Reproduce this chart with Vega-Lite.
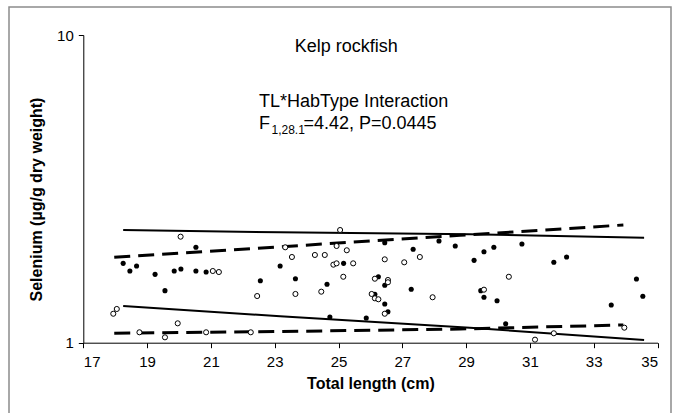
{
  "$schema": "https://vega.github.io/schema/vega-lite/v6.json",
  "width": 662,
  "height": 416,
  "autosize": {"type": "none"},
  "padding": {"left": 9, "top": 7, "right": 8, "bottom": -10},
  "background": "white",
  "config": {
    "font": "Liberation Sans",
    "view": {"stroke": "#8c8c8c", "strokeWidth": 1.5},
    "axis": {
      "grid": false,
      "domainColor": "#000000",
      "domainWidth": 1,
      "tickColor": "#000000",
      "tickSize": 5,
      "labelColor": "#000000",
      "titleColor": "#000000",
      "labelFont": "Liberation Sans",
      "labelFontSize": 15,
      "titleFont": "Liberation Sans",
      "titleFontWeight": "bold"
    }
  },
  "datasets": {
    "fish": [
      {"length": 18.25, "selenium": 1.811, "HabType": "1"},
      {"length": 18.46, "selenium": 1.710, "HabType": "1"},
      {"length": 18.67, "selenium": 1.776, "HabType": "1"},
      {"length": 19.25, "selenium": 1.668, "HabType": "1"},
      {"length": 19.56, "selenium": 1.476, "HabType": "1"},
      {"length": 19.85, "selenium": 1.710, "HabType": "1"},
      {"length": 20.06, "selenium": 1.736, "HabType": "1"},
      {"length": 20.53, "selenium": 2.042, "HabType": "1"},
      {"length": 20.53, "selenium": 1.710, "HabType": "1"},
      {"length": 20.85, "selenium": 1.697, "HabType": "1"},
      {"length": 22.55, "selenium": 1.590, "HabType": "1"},
      {"length": 23.17, "selenium": 1.776, "HabType": "1"},
      {"length": 23.65, "selenium": 1.614, "HabType": "1"},
      {"length": 24.64, "selenium": 1.548, "HabType": "1"},
      {"length": 25.16, "selenium": 1.811, "HabType": "1"},
      {"length": 24.73, "selenium": 1.212, "HabType": "1"},
      {"length": 25.87, "selenium": 1.203, "HabType": "1"},
      {"length": 26.25, "selenium": 1.638, "HabType": "1"},
      {"length": 26.45, "selenium": 1.537, "HabType": "1"},
      {"length": 26.14, "selenium": 1.437, "HabType": "1"},
      {"length": 26.45, "selenium": 1.336, "HabType": "1"},
      {"length": 26.55, "selenium": 1.261, "HabType": "1"},
      {"length": 26.45, "selenium": 2.113, "HabType": "1"},
      {"length": 27.34, "selenium": 2.012, "HabType": "1"},
      {"length": 27.28, "selenium": 1.491, "HabType": "1"},
      {"length": 28.15, "selenium": 2.141, "HabType": "1"},
      {"length": 28.66, "selenium": 2.062, "HabType": "1"},
      {"length": 29.25, "selenium": 1.852, "HabType": "1"},
      {"length": 29.56, "selenium": 1.976, "HabType": "1"},
      {"length": 29.87, "selenium": 2.042, "HabType": "1"},
      {"length": 30.75, "selenium": 2.093, "HabType": "1"},
      {"length": 31.75, "selenium": 1.825, "HabType": "1"},
      {"length": 32.15, "selenium": 1.899, "HabType": "1"},
      {"length": 29.46, "selenium": 1.476, "HabType": "1"},
      {"length": 29.56, "selenium": 1.405, "HabType": "1"},
      {"length": 29.97, "selenium": 1.369, "HabType": "1"},
      {"length": 30.24, "selenium": 1.153, "HabType": "1"},
      {"length": 33.55, "selenium": 1.326, "HabType": "1"},
      {"length": 34.34, "selenium": 1.611, "HabType": "1"},
      {"length": 34.54, "selenium": 1.415, "HabType": "1"},
      {"length": 20.05, "selenium": 2.211, "HabType": "2"},
      {"length": 21.06, "selenium": 1.710, "HabType": "2"},
      {"length": 21.25, "selenium": 1.697, "HabType": "2"},
      {"length": 22.45, "selenium": 1.418, "HabType": "2"},
      {"length": 17.94, "selenium": 1.242, "HabType": "2"},
      {"length": 18.05, "selenium": 1.287, "HabType": "2"},
      {"length": 18.76, "selenium": 1.081, "HabType": "2"},
      {"length": 19.96, "selenium": 1.156, "HabType": "2"},
      {"length": 19.56, "selenium": 1.041, "HabType": "2"},
      {"length": 20.85, "selenium": 1.081, "HabType": "2"},
      {"length": 22.25, "selenium": 1.081, "HabType": "2"},
      {"length": 25.05, "selenium": 2.324, "HabType": "2"},
      {"length": 23.33, "selenium": 2.042, "HabType": "2"},
      {"length": 23.54, "selenium": 1.899, "HabType": "2"},
      {"length": 23.65, "selenium": 1.440, "HabType": "2"},
      {"length": 24.26, "selenium": 1.928, "HabType": "2"},
      {"length": 24.57, "selenium": 1.928, "HabType": "2"},
      {"length": 24.94, "selenium": 2.062, "HabType": "2"},
      {"length": 25.26, "selenium": 1.997, "HabType": "2"},
      {"length": 24.84, "selenium": 1.793, "HabType": "2"},
      {"length": 24.94, "selenium": 1.811, "HabType": "2"},
      {"length": 25.46, "selenium": 1.811, "HabType": "2"},
      {"length": 25.15, "selenium": 1.638, "HabType": "2"},
      {"length": 24.46, "selenium": 1.465, "HabType": "2"},
      {"length": 26.14, "selenium": 1.614, "HabType": "2"},
      {"length": 26.55, "selenium": 1.599, "HabType": "2"},
      {"length": 26.55, "selenium": 1.572, "HabType": "2"},
      {"length": 26.45, "selenium": 1.866, "HabType": "2"},
      {"length": 26.04, "selenium": 1.440, "HabType": "2"},
      {"length": 26.14, "selenium": 1.394, "HabType": "2"},
      {"length": 26.25, "selenium": 1.384, "HabType": "2"},
      {"length": 26.45, "selenium": 1.242, "HabType": "2"},
      {"length": 27.06, "selenium": 1.825, "HabType": "2"},
      {"length": 27.55, "selenium": 1.899, "HabType": "2"},
      {"length": 27.95, "selenium": 1.405, "HabType": "2"},
      {"length": 30.34, "selenium": 1.638, "HabType": "2"},
      {"length": 29.56, "selenium": 1.487, "HabType": "2"},
      {"length": 31.16, "selenium": 1.023, "HabType": "2"},
      {"length": 31.75, "selenium": 1.073, "HabType": "2"},
      {"length": 33.96, "selenium": 1.119, "HabType": "2"}
    ],
    "bounds": [
      {"length": 18.25, "selenium": 2.324, "HabType": "1", "bound": "upper"},
      {"length": 23.17, "selenium": 2.285, "HabType": "1", "bound": "upper"},
      {"length": 29.12, "selenium": 2.250, "HabType": "1", "bound": "upper"},
      {"length": 34.58, "selenium": 2.194, "HabType": "1", "bound": "upper"},
      {"length": 18.25, "selenium": 1.316, "HabType": "1", "bound": "lower"},
      {"length": 23.17, "selenium": 1.219, "HabType": "1", "bound": "lower"},
      {"length": 29.12, "selenium": 1.119, "HabType": "1", "bound": "lower"},
      {"length": 34.58, "selenium": 1.020, "HabType": "1", "bound": "lower"},
      {"length": 17.97, "selenium": 1.895, "HabType": "2", "bound": "upper"},
      {"length": 23.17, "selenium": 2.050, "HabType": "2", "bound": "upper"},
      {"length": 28.81, "selenium": 2.234, "HabType": "2", "bound": "upper"},
      {"length": 33.93, "selenium": 2.413, "HabType": "2", "bound": "upper"},
      {"length": 17.97, "selenium": 1.073, "HabType": "2", "bound": "lower"},
      {"length": 23.17, "selenium": 1.087, "HabType": "2", "bound": "lower"},
      {"length": 28.81, "selenium": 1.108, "HabType": "2", "bound": "lower"},
      {"length": 33.93, "selenium": 1.142, "HabType": "2", "bound": "lower"}
    ],
    "heading": [
      {"length": 25.24, "selenium": 8.81, "label": "Kelp rockfish"}
    ],
    "stats": [
      {"length": 22.51, "selenium": 5.821, "label": "TL*HabType Interaction"},
      {"length": 22.51, "selenium": 4.938, "label": "F"},
      {"length": 23.90, "selenium": 4.938, "label": "=4.42, P=0.0445"}
    ],
    "subscript": [
      {"length": 22.90, "selenium": 4.769, "label": "1,28.1"}
    ]
  },
  "layer": [
    {
      "data": {"name": "bounds"},
      "transform": [{"filter": "datum.HabType === '1'"}],
      "mark": {"type": "line", "color": "#000000", "strokeWidth": 2},
      "encoding": {
        "x": {
          "field": "length",
          "type": "quantitative",
          "scale": {"domain": [17, 35], "range": [74.3, 648.5], "nice": false, "zero": false},
          "axis": {
            "values": [17, 19, 21, 23, 25, 27, 29, 31, 33, 35],
            "title": "Total length (cm)",
            "offset": -80.3,
            "labelPadding": 7,
            "titleFontSize": 16,
            "titlePadding": 6
          }
        },
        "y": {
          "field": "selenium",
          "type": "quantitative",
          "scale": {"type": "log", "domain": [1, 10], "range": [335.7, 28], "nice": false},
          "axis": {
            "values": [1, 10],
            "format": "d",
            "title": "Selenium (µg/g dry weight)",
            "titleY": 192,
            "offset": -74.3,
            "labelPadding": 5,
            "titleFontSize": 16,
            "titlePadding": 12
          }
        },
        "detail": {"field": "bound"}
      }
    },
    {
      "data": {"name": "bounds"},
      "transform": [{"filter": "datum.HabType === '2'"}],
      "mark": {"type": "line", "color": "#000000", "strokeWidth": 3, "strokeDash": [16, 8]},
      "encoding": {
        "x": {"field": "length", "type": "quantitative"},
        "y": {"field": "selenium", "type": "quantitative"},
        "detail": {"field": "bound"}
      }
    },
    {
      "data": {"name": "fish"},
      "transform": [{"filter": "datum.HabType === '1'"}],
      "mark": {"type": "point", "shape": "circle", "filled": true, "color": "#000000", "size": 26, "opacity": 1},
      "encoding": {
        "x": {"field": "length", "type": "quantitative"},
        "y": {"field": "selenium", "type": "quantitative"}
      }
    },
    {
      "data": {"name": "fish"},
      "transform": [{"filter": "datum.HabType === '2'"}],
      "mark": {"type": "point", "shape": "circle", "filled": false, "fill": "#ffffff", "fillOpacity": 1, "stroke": "#000000", "strokeWidth": 1, "size": 26, "opacity": 1},
      "encoding": {
        "x": {"field": "length", "type": "quantitative"},
        "y": {"field": "selenium", "type": "quantitative"}
      }
    },
    {
      "data": {"name": "heading"},
      "mark": {"type": "text", "align": "center", "baseline": "alphabetic", "fontSize": 18, "color": "#000000"},
      "encoding": {
        "x": {"field": "length", "type": "quantitative"},
        "y": {"field": "selenium", "type": "quantitative"},
        "text": {"field": "label"}
      }
    },
    {
      "data": {"name": "stats"},
      "mark": {"type": "text", "align": "left", "baseline": "alphabetic", "fontSize": 18, "color": "#000000"},
      "encoding": {
        "x": {"field": "length", "type": "quantitative"},
        "y": {"field": "selenium", "type": "quantitative"},
        "text": {"field": "label"}
      }
    },
    {
      "data": {"name": "subscript"},
      "mark": {"type": "text", "align": "left", "baseline": "alphabetic", "fontSize": 12, "color": "#000000"},
      "encoding": {
        "x": {"field": "length", "type": "quantitative"},
        "y": {"field": "selenium", "type": "quantitative"},
        "text": {"field": "label"}
      }
    }
  ]
}
